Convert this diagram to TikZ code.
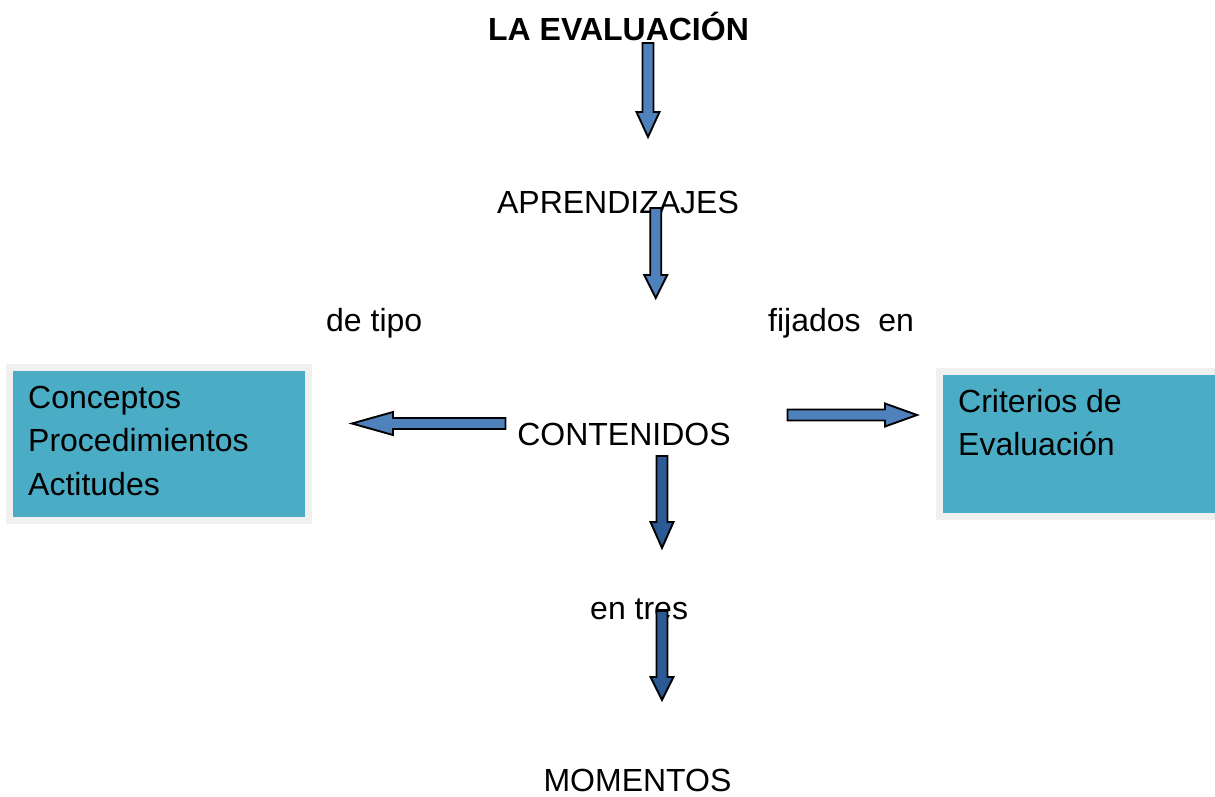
\documentclass[tikz,border=0pt]{standalone}
\usepackage{fontspec}
\setmainfont{Liberation Sans}
\definecolor{arrowblue}{HTML}{4F81BD}
\definecolor{arrowdark}{HTML}{2C5A94}
\definecolor{boxteal}{HTML}{4BACC6}
\definecolor{boxedge}{HTML}{F0F0F0}
\newcommand{\DownBlock}[5]{%
  \draw[blockarrow=#1] (#2-5.5,#3) -- (#2+5.5,#3) -- (#2+5.5,#4) -- (#2+11.5,#4) -- (#2,#5) -- (#2-11.5,#4) -- (#2-5.5,#4) -- cycle;}
\newcommand{\SideBlock}[5]{%
  \draw[blockarrow=#1] (#2,#3-5.5) -- (#4,#3-5.5) -- (#4,#3-11.5) -- (#5,#3) -- (#4,#3+11.5) -- (#4,#3+5.5) -- (#2,#3+5.5) -- cycle;}
\begin{document}
\begin{tikzpicture}[x=1pt,y=-1pt,
  lbl/.style={font=\fontsize{32}{38}\selectfont, inner sep=0pt, anchor=base},
  lblw/.style={lbl, anchor=base west},
  tealbox/.style={fill=boxteal, draw=boxedge, line width=7pt, inner sep=0pt, outer sep=0pt, anchor=north west},
  blockarrow/.style={draw=black, line width=1.9pt, line join=miter, fill=#1}]
\useasboundingbox (0,0) rectangle (1215,796);

% boxes
\node[tealbox, minimum width=299, minimum height=153] (lbox) at (9.5,367.5) {};
\node[tealbox, minimum width=290, minimum height=145] (rbox) at (939.5,371) {};

% texts
\node[lbl, font=\fontsize{32}{38}\selectfont\bfseries] (title) at (618.5,40) {LA EVALUACIÓN};
\node[lbl] (apr) at (618,213.3) {APRENDIZAJES};
\node[lblw] (tipo) at (326,331) {de tipo};
\node[lblw] (fij) at (768,331) {fijados\ \ en};
\node[lbl] (cont) at (624,445.5) {CONTENIDOS};
\node[lblw] (tres) at (590,619) {en tres};
\node[lbl] (mom) at (637.5,791) {MOMENTOS};

\node[lblw] (c1) at (28,408) {Conceptos};
\node[lblw] (c2) at (28,451.5) {Procedimientos};
\node[lblw] (c3) at (28,495) {Actitudes};
\node[lblw] (r1) at (958,412.5) {Criterios de};
\node[lblw] (r2) at (958,455) {Evaluación};

% block arrows
\DownBlock{arrowblue}{648}{43}{112}{137}
\DownBlock{arrowblue}{655.7}{208}{275}{298}
\DownBlock{arrowdark}{662}{456}{522}{548}
\DownBlock{arrowdark}{662}{611}{677}{700}
\SideBlock{arrowblue}{505.5}{423.5}{393}{352}
\SideBlock{arrowblue}{787.5}{415}{885}{917}
\end{tikzpicture}
\end{document}
